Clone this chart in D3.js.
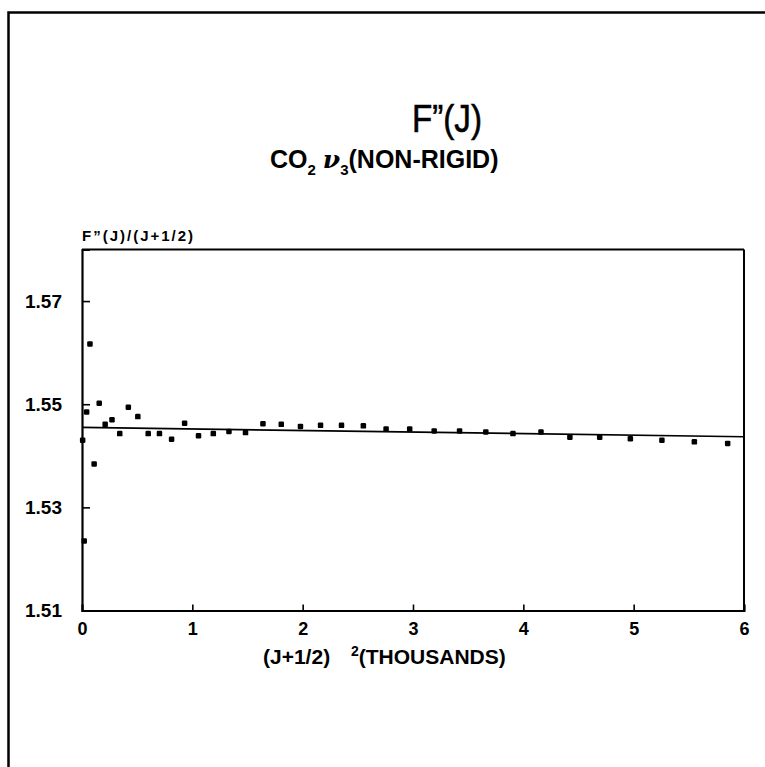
<!DOCTYPE html>
<html><head><meta charset="utf-8">
<script src="https://cdn.jsdelivr.net/npm/d3@7"></script>
<style>
html,body{margin:0;padding:0;background:#fff;}
svg{display:block;}
text{font-family:"Liberation Sans",Arial,Helvetica,sans-serif;fill:#000;}
</style></head>
<body>
<script>
// Data
const xThousands = [0.006,0.020,0.042,0.072,0.110,0.156,0.210,0.272,0.342,0.420,
  0.506,0.600,0.702,0.812,0.930,1.056,1.190,1.332,1.482,1.640,
  1.806,1.980,2.162,2.352,2.550,2.756,2.970,3.192,3.422,3.660,
  3.906,4.160,4.422,4.692,4.970,5.256,5.550,5.852];
const fRatio = [1.5430,1.5235,1.5485,1.5617,1.5384,1.5502,1.5461,1.5470,1.5443,1.5494,
  1.5476,1.5443,1.5443,1.5432,1.5463,1.5439,1.5443,1.5447,1.5445,1.5462,
  1.5461,1.5457,1.5459,1.5459,1.5458,1.5452,1.5452,1.5448,1.5448,1.5446,
  1.5443,1.5446,1.5436,1.5436,1.5433,1.5430,1.5427,1.5424];
const fitX = [0, 6];
const fitY = [1.5455, 1.5437];
const xTicks = [0,1,2,3,4,5,6];
const yTicks = [1.51,1.53,1.55,1.57];
const xDomain = [0, 6];
const yDomain = [1.51, 1.58];

const W = 765, H = 767;
const svg = d3.select("body").append("svg").attr("width", W).attr("height", H);

// outer frame
svg.append("rect").attr("x", 8.5).attr("y", 12.5).attr("width", 800).attr("height", 800)
  .attr("fill", "none").attr("stroke", "#000").attr("stroke-width", 2.5);

const L = 82, R = 744, T = 249.5, B = 610.5;
const x = d3.scaleLinear().domain(xDomain).range([L, R]);
const y = d3.scaleLinear().domain(yDomain).range([B, T]);

// plot frame (top and right)
svg.append("line").attr("x1", x(0)).attr("x2", x(6)).attr("y1", y(1.58)).attr("y2", y(1.58))
  .attr("stroke", "#000").attr("stroke-width", 1.8);
svg.append("line").attr("x1", x(6)).attr("x2", x(6)).attr("y1", y(1.58)).attr("y2", y(1.51))
  .attr("stroke", "#000").attr("stroke-width", 2);

// axes
const xAxis = d3.axisBottom(x).tickValues(xTicks).tickFormat(d3.format("d")).tickSize(-6).tickPadding(12);
const gx = svg.append("g").attr("transform", `translate(0,${B})`).call(xAxis);
gx.select(".domain").attr("stroke-width", 2);
gx.selectAll(".tick line").attr("stroke-width", 1.6);
gx.selectAll(".tick text").attr("font-size", 18).attr("font-weight", "bold");

const yAxis = d3.axisLeft(y).tickValues(yTicks).tickFormat(d3.format(".2f")).tickSize(-8).tickPadding(20);
const gy = svg.append("g").attr("transform", `translate(${L},0)`).call(yAxis);
gy.select(".domain").attr("stroke-width", 2.2);
gy.selectAll(".tick line").attr("stroke-width", 1.6);
gy.selectAll(".tick text").attr("font-size", 19).attr("font-weight", "bold");

// fit line
const line = d3.line().x(d => x(d[0])).y(d => y(d[1]));
svg.append("path").datum(fitX.map((v, i) => [v, fitY[i]]))
  .attr("d", line).attr("fill", "none").attr("stroke", "#000").attr("stroke-width", 1.6);

// points
const s = 5.5;
svg.append("g").selectAll("rect").data(xThousands.map((v, i) => [v, fRatio[i]])).join("rect")
  .attr("x", d => x(d[0]) - s / 2).attr("y", d => y(d[1]) - s / 2)
  .attr("width", s).attr("height", s).attr("rx", 1.2).attr("fill", "#000");

// titles
svg.append("text").attr("x", 412).attr("y", 132)
  .attr("font-size", 39).attr("textLength", 70).attr("lengthAdjust", "spacingAndGlyphs")
  .attr("stroke", "#000").attr("stroke-width", 0.6)
  .text("F\u201D(J)");
const sub = svg.append("text").attr("x", 270).attr("y", 168)
  .attr("font-size", 25).attr("font-weight", "bold");
sub.append("tspan").text("CO");
sub.append("tspan").attr("font-size", 15).attr("dy", 7).text("2");
sub.append("tspan").attr("dy", -7).text(" ");
sub.append("tspan").attr("font-style", "italic").attr("font-family", "DejaVu Serif").text("\u03BD");
sub.append("tspan").attr("font-size", 15).attr("dy", 7).text("3");
sub.append("tspan").attr("dy", -7).text("(NON-RIGID)");

// y label
svg.append("text").attr("x", 82).attr("y", 241).attr("font-size", 15).attr("font-weight", "bold")
  .attr("letter-spacing", 2).text("F\u201D(J)/(J+1/2)");

// x label
svg.append("text").attr("x", 263).attr("y", 664)
  .attr("font-size", 21).attr("font-weight", "bold").text("(J+1/2)");
const xl = svg.append("text").attr("x", 351).attr("y", 664).attr("font-size", 21).attr("font-weight", "bold");
xl.append("tspan").attr("font-size", 14).attr("dy", -8).text("2");
xl.append("tspan").attr("dy", 8).text("(THOUSANDS)");
</script>
</body></html>
